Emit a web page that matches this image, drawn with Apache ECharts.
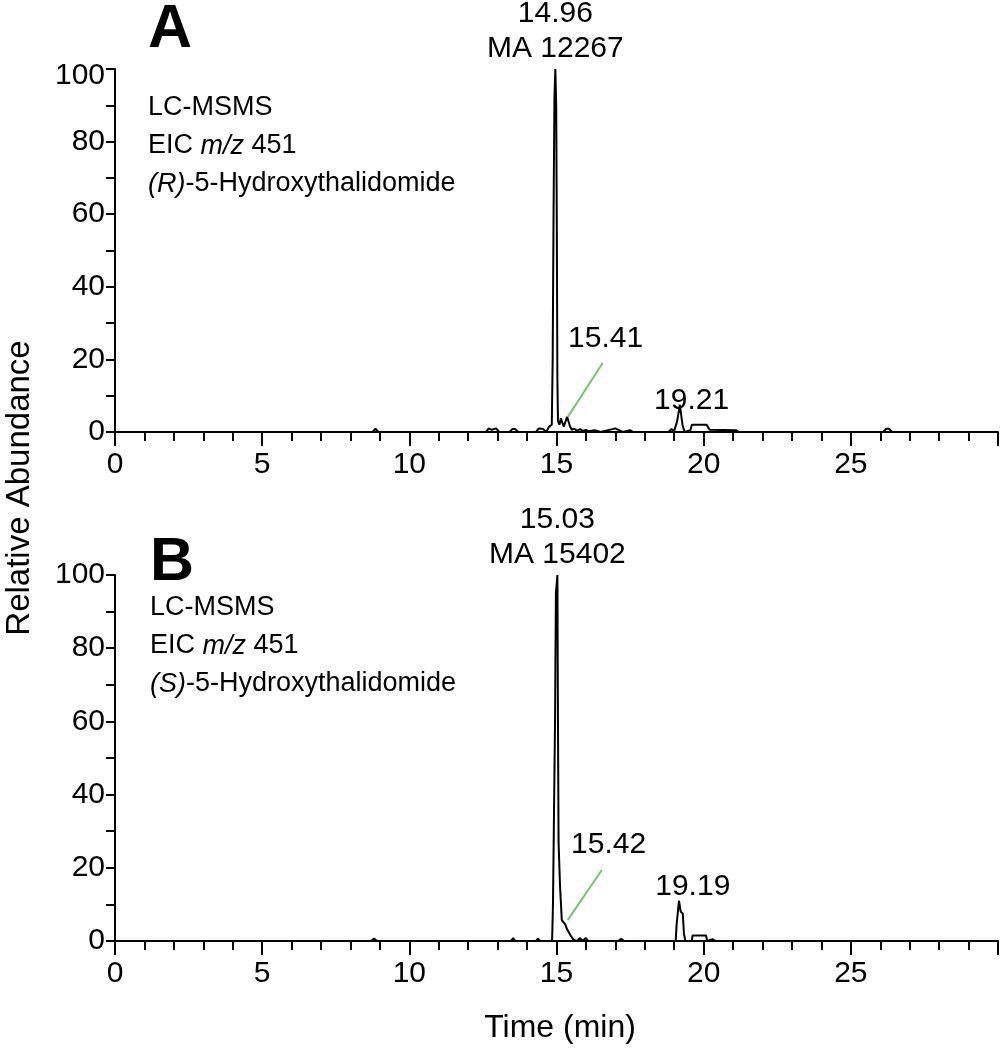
<!DOCTYPE html>
<html>
<head>
<meta charset="utf-8">
<title>Chromatograms</title>
<script src="https://cdn.jsdelivr.net/npm/echarts@6/dist/echarts.min.js"></script>
<style>
  html, body { margin: 0; padding: 0; background: #fff; }
  #main { width: 1002px; height: 1050px; }
</style>
</head>
<body>
<div id="main"></div>
<script>
// retention time (min) vs relative abundance
const chromA = [
  [0, 0], [8.75, 0], [8.85, 0.9], [8.95, 0], [12.6, 0], [12.7, 1], [12.8, 0.6], [12.95, 1], [13.05, 0],
  [13.4, 0], [13.5, 0.8], [13.6, 0.8], [13.7, 0], [14.3, 0], [14.4, 1], [14.55, 0.8], [14.65, 0],
  [14.75, 1.5], [14.84, 2], [14.87, 20], [14.9, 60], [14.93, 92], [14.96, 100], [14.99, 90],
  [15.01, 58], [15.03, 15], [15.05, 3], [15.1, 2], [15.15, 3.8], [15.2, 2.5], [15.25, 1.5],
  [15.3, 2], [15.36, 4.2], [15.41, 4.5], [15.46, 1.5], [15.52, 0.6], [15.6, 0.9], [15.7, 0.4],
  [15.8, 0.8], [15.9, 0.3], [16.0, 0.6], [16.1, 0.2], [16.3, 0.5], [16.5, 0], [16.9, 0.8],
  [17.0, 1], [17.1, 0.6], [17.25, 0], [17.5, 0.5], [17.6, 0], [18.8, 0], [18.9, 0.8], [19.0, 0.3],
  [19.1, 3], [19.15, 3.5], [19.19, 7.5], [19.23, 7], [19.28, 2], [19.35, 0], [19.55, 0.5], [19.6, 2],
  [20.1, 2], [20.2, 0.6], [21.1, 0.5], [21.2, 0], [26.1, 0], [26.2, 0.9], [26.3, 0.9], [26.4, 0], [30, 0]
];
const chromB = [
  [0, 0], [8.7, 0], [8.8, 0.7], [8.9, 0], [13.45, 0], [13.53, 0.8], [13.6, 0], [14.3, 0], [14.37, 0.6],
  [14.45, 0], [14.85, 0], [14.88, 10], [14.92, 10.5], [14.95, 60], [14.98, 95], [15.03, 100],
  [15.05, 60], [15.07, 27], [15.12, 15], [15.18, 5.7], [15.22, 5.5], [15.3, 4.5], [15.36, 3.2],
  [15.42, 3.5], [15.48, 1.5], [15.58, 0.3], [15.7, 0], [15.8, 0.8], [15.88, 0], [16.0, 0.8],
  [16.08, 0], [17.1, 0], [17.2, 0.6], [17.3, 0], [19.05, 0], [19.08, 4.4], [19.13, 4.6],
  [19.16, 11], [19.2, 11.2], [19.22, 8], [19.29, 7.5], [19.33, 2], [19.38, 0], [19.6, 0],
  [19.62, 1.5], [20.08, 1.5], [20.12, 0], [20.3, 0.5], [20.4, 0], [30, 0]
];

// peak annotations: [time, abundance, text]
const peakLabelsA = [
  [14.96, 100, '14.96\nMA 12267'],
  [16.67, 25.6, '15.41'],
  [19.59, 8.5, '19.21']
];
const peakLabelsB = [
  [15.03, 100, '15.03\nMA 15402'],
  [16.77, 26.2, '15.42'],
  [19.63, 14.7, '19.19']
];
// green leader lines from label to minor peak: [[t1, y1], [t2, y2]]
const leaderA = [[15.38, 4.1], [16.57, 19]];
const leaderB = [[15.38, 5.7], [16.54, 19.4]];

const timeTicks = { min: 0, max: 30, interval: 5 };
const abundTicks = { min: 0, max: 100, interval: 20 };

const FONT = '"Liberation Sans", Arial, sans-serif';

const chart = echarts.init(document.getElementById('main'), null, { renderer: 'canvas' });

function xAxisFor(idx) {
  return {
    gridIndex: idx,
    type: 'value',
    min: timeTicks.min,
    max: timeTicks.max,
    interval: timeTicks.interval,
    axisLine: { show: true, onZero: false, lineStyle: { color: '#000', width: 2 } },
    axisTick: { show: true, length: 14, lineStyle: { color: '#000', width: 2 } },
    minorTick: { show: true, splitNumber: 5, length: 9, lineStyle: { color: '#000', width: 2 } },
    axisLabel: { color: '#000', fontSize: 30, fontFamily: FONT, margin: 18, showMaxLabel: false },
    splitLine: { show: false }
  };
}

function yAxisFor(idx, dropTop) {
  return {
    gridIndex: idx,
    type: 'value',
    min: abundTicks.min,
    max: abundTicks.max,
    interval: abundTicks.interval,
    axisLine: { show: true, lineStyle: { color: '#000', width: 2 } },
    axisTick: { show: true, length: 9, lineStyle: { color: '#000', width: 2 } },
    minorTick: { show: true, splitNumber: 2, length: 9, lineStyle: { color: '#000', width: 2 } },
    axisLabel: {
      color: '#000', fontSize: 30, fontFamily: FONT, margin: 10,
      // top label of panel A sits a little below its tick in the original
      formatter: function (v) { return (dropTop && v === abundTicks.max) ? '{d|' + v + '}' : String(v); },
      rich: { d: { fontSize: 30, fontFamily: FONT, color: '#000', padding: [14, 0, 0, 0] } }
    },
    splitLine: { show: false }
  };
}

function labelPoints(list) {
  return list.map(function (p, i) {
    const main = i === 0;
    return {
      coord: [p[0], p[1]],
      symbolSize: 0,
      label: {
        show: true,
        formatter: p[2],
        position: main ? 'top' : 'inside',
        distance: 3,
        color: '#000',
        fontSize: 30,
        fontFamily: FONT,
        lineHeight: 35,
        align: 'center'
      }
    };
  });
}

function traceSeries(idx, data, labels, leader) {
  return {
    type: 'line',
    xAxisIndex: idx,
    yAxisIndex: idx,
    data: data,
    showSymbol: false,
    symbol: 'none',
    silent: true,
    clip: false,
    lineStyle: { color: '#000', width: 2 },
    markPoint: {
      silent: true,
      symbol: 'circle',
      itemStyle: { color: 'transparent' },
      data: labelPoints(labels)
    },
    markLine: {
      silent: true,
      symbol: ['none', 'none'],
      label: { show: false },
      lineStyle: { color: '#72c66c', width: 2, type: 'solid' },
      data: [[{ coord: leader[0] }, { coord: leader[1] }]]
    }
  };
}

function sampleText(x, letterTop, textTop, letter, isomer) {
  return [
    { type: 'text', left: x, top: letterTop, style: { text: letter, font: 'bold 61px ' + FONT, fill: '#000' } },
    {
      type: 'text', left: x, top: textTop,
      style: {
        text: '{n|LC-MSMS}\n{n|EIC }{i|m/z}{n| 451}\n{i|(' + isomer + ')}{n|-5-Hydroxythalidomide}',
        font: '27px ' + FONT,
        lineHeight: 38,
        fill: '#000',
        rich: {
          n: { fontSize: 27, fontFamily: FONT, lineHeight: 38 },
          i: { fontSize: 27, fontFamily: FONT, fontStyle: 'italic', lineHeight: 38 }
        }
      }
    }
  ];
}

const option = {
  animation: false,
  backgroundColor: '#fff',
  grid: [
    { left: 115, right: 4, top: 69, height: 363 },
    { left: 115, right: 4, top: 575, height: 366 }
  ],
  xAxis: [xAxisFor(0), xAxisFor(1)],
  yAxis: [yAxisFor(0, true), yAxisFor(1, false)],
  series: [
    traceSeries(0, chromA, peakLabelsA, leaderA),
    traceSeries(1, chromB, peakLabelsB, leaderB)
  ],
  graphic: [
    ...sampleText(148, 0, 89, 'A', 'R'),
    ...sampleText(150, 533, 589, 'B', 'S'),
    {
      type: 'text', x: 20, y: 488, rotation: Math.PI / 2,
      style: { text: 'Relative Abundance', font: '33px ' + FONT, fill: '#000', align: 'center', verticalAlign: 'middle' }
    },
    {
      type: 'text', x: 560, y: 1028,
      style: { text: 'Time (min)', font: '32px ' + FONT, fill: '#000', align: 'center', verticalAlign: 'middle' }
    }
  ]
};

chart.setOption(option);
</script>
</body>
</html>
